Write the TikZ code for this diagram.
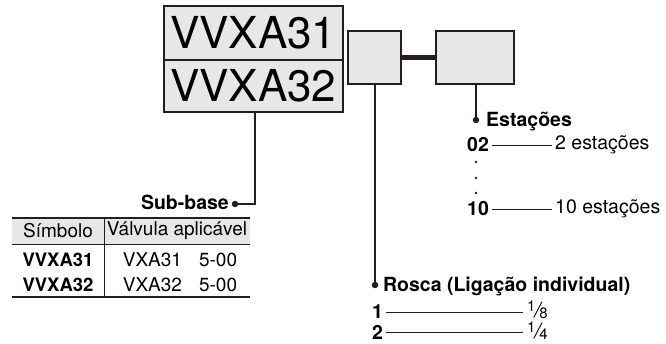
\documentclass[tikz,border=0pt]{standalone}
\usepackage{fontspec}
\setmainfont{TeX Gyre Heros}
\usetikzlibrary{positioning}
\definecolor{boxgray}{HTML}{E6E7E8}
\definecolor{ink}{HTML}{231F20}
\newcommand{\slfrac}[2]{\raisebox{0.55ex}{\fontsize{15}{15}\selectfont#1}\kern-0.05em{\fontsize{21}{21}\selectfont\itshape/}\kern-0.05em\raisebox{-0.1ex}{\fontsize{15}{15}\selectfont#2}}

\begin{document}
\begin{tikzpicture}[x=1pt,y=-1pt,
  box/.style={draw=ink, line width=1.6pt, fill=boxgray, inner sep=0pt},
  lead/.style={draw=ink, line width=1.6pt},
  tick/.style={draw=ink, line width=0.7pt},
  dotmark/.style={circle, fill=ink, inner sep=0pt, minimum size=6.5pt},
  lbl/.style={font=\bfseries\fontsize{19.5}{19.5}\selectfont, inner sep=0pt},
  code/.style={font=\bfseries\fontsize{19.5}{19.5}\selectfont, inner sep=3pt},
  txt/.style={font=\fontsize{19.5}{19.5}\selectfont, inner sep=3pt},
  cell/.style={font=\fontsize{19}{19}\selectfont, inner sep=0pt}]
\useasboundingbox (0,0) rectangle (666,344);

% model number boxes
\node[box, minimum width=179pt, minimum height=54pt, anchor=north west,
  font=\fontsize{44}{44}\selectfont] (sym31) at (163,5) {VVXA31};
\node[box, minimum width=179pt, minimum height=52pt, anchor=north west,
  font=\fontsize{44}{44}\selectfont] (sym32) at (163,59) {VVXA32};
\node[box, minimum width=53pt, minimum height=53pt, anchor=north west] (thread) at (347,30) {};
\node[box, minimum width=78pt, minimum height=53pt, anchor=north west] (stations) at (435,30) {};
\draw[ink, line width=5pt] (thread.east) -- (stations.west);

% Sub-base
\coordinate (subend) at (255,204);
\node[dotmark] (subdot) at (235,204) {};
\node[lbl, anchor=base east] (sublbl) at (229,210) {Sub-base};
\draw[lead] (subend |- sym32.south) -- (subend) -- (subdot);

% Estacoes
\node[dotmark] (stdot) at (476,120) {};
\node[lbl, anchor=base west] (stlbl) at (486,126.5) {Estações};
\draw[lead] (stdot |- stations.south) -- (stdot);
\node[code, anchor=west] (c02) at (464,145) {02};
\node[txt, anchor=west] (d02) at (552,145) {2 estações};
\node[code, anchor=west] (c10) at (464,209) {10};
\node[txt, anchor=west] (d10) at (552,209) {10 estações};
\draw[tick] (c02.east) -- (d02.west);
\draw[tick] (c10.east) -- (d10.west);
\foreach \y in {162,178,193}
  \fill[ink] (476,\y) circle (1.3);

% Rosca
\node[dotmark] (rsdot) at (375,285) {};
\node[lbl, anchor=base west] (rslbl) at (383,291.5) {Rosca (Ligação individual)};
\draw[lead] (rsdot |- thread.south) -- (rsdot);
\node[code, anchor=west] (r1) at (369,312) {1};
\node[txt, anchor=west, inner sep=0pt] (f1) at (527,310) {\slfrac{1}{8}};
\node[code, anchor=west] (r2) at (369,332) {2};
\node[txt, anchor=west, inner sep=0pt] (f2) at (527,331) {\slfrac{1}{4}};
\draw[tick] (r1.east) -- ([xshift=-4pt]f1.west |- r1.east);
\draw[tick] (r2.east) -- ([xshift=-4pt]f2.west |- r2.east);

% table
\fill[boxgray] (12,218) rectangle (250,244);
\draw[ink, line width=1.4pt] (12,218) -- (250,218);
\draw[ink, line width=0.7pt] (12,244) -- (250,244);
\draw[ink, line width=1.2pt] (12,297) -- (250,297);
\draw[ink, line width=0.7pt] (104,218) -- (104,297);
\node[cell] (h1) at (58,231) {Símbolo};
\node[cell] (h2) at (177,231) {Válvula aplicável};
\node[cell, font=\bfseries\fontsize{18.5}{18.5}\selectfont] (s31) at (58,260) {VVXA31};
\node[cell] (v31) at (180,260) {VXA31\hspace{0.9em}5-00};
\node[cell, font=\bfseries\fontsize{18.5}{18.5}\selectfont] (s32) at (58,285) {VVXA32};
\node[cell] (v32) at (180,285) {VXA32\hspace{0.9em}5-00};
\end{tikzpicture}
\end{document}
